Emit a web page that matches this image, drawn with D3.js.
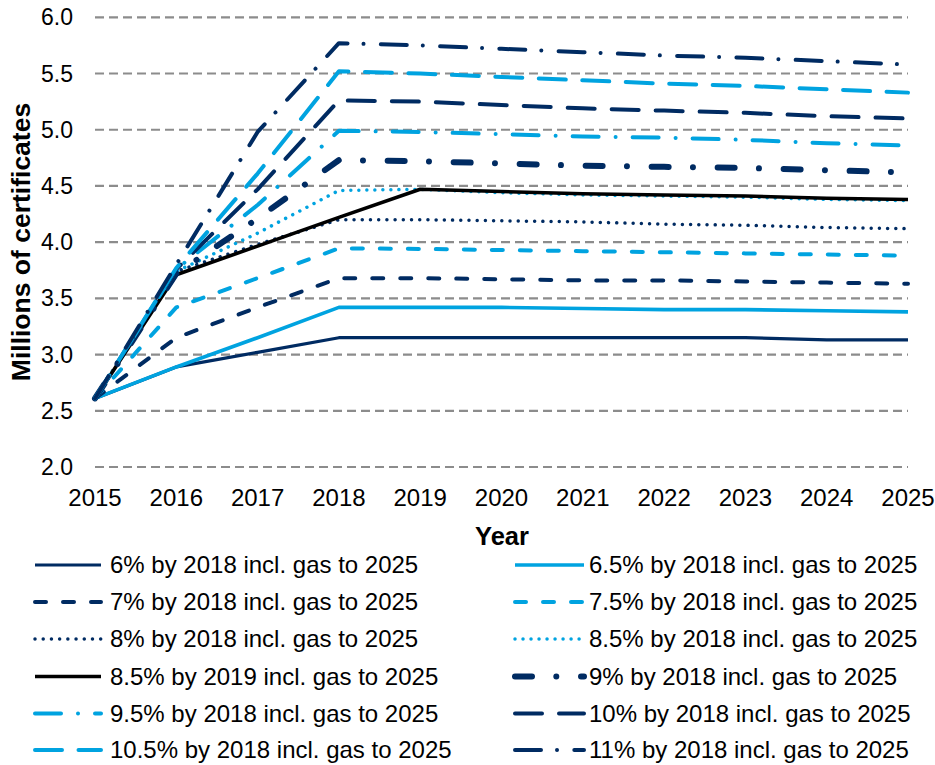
<!DOCTYPE html>
<html>
<head>
<meta charset="utf-8">
<script src="https://cdn.jsdelivr.net/npm/d3@7"></script>
<style>
  html, body { margin: 0; padding: 0; background: #fff; }
  svg { display: block; }
  text { font-family: "Liberation Sans", Arial, sans-serif; fill: #000; }
</style>
</head>
<body>
<svg id="chart" width="935" height="765"></svg>
<script>
// ---- Data ----
const years = [2015, 2016, 2017, 2018, 2019, 2020, 2021, 2022, 2023, 2024, 2025];
const yTicks = [2.0, 2.5, 3.0, 3.5, 4.0, 4.5, 5.0, 5.5, 6.0];
const seriesNames = [
  "6% by 2018 incl. gas to 2025",
  "6.5% by 2018 incl. gas to 2025",
  "7% by 2018 incl. gas to 2025",
  "7.5% by 2018 incl. gas to 2025",
  "8% by 2018 incl. gas to 2025",
  "8.5% by 2018 incl. gas to 2025",
  "8.5% by 2019 incl. gas to 2025",
  "9% by 2018 incl. gas to 2025",
  "9.5% by 2018 incl. gas to 2025",
  "10% by 2018 incl. gas to 2025",
  "10.5% by 2018 incl. gas to 2025",
  "11% by 2018 incl. gas to 2025"
];
const s6     = [2.61, 2.89, 3.02, 3.15, 3.15, 3.15, 3.15, 3.15, 3.15, 3.13, 3.13];
const s6_5   = [2.61, 2.89, 3.15, 3.42, 3.42, 3.42, 3.41, 3.40, 3.40, 3.39, 3.38];
const s7     = [2.61, 3.15, 3.42, 3.68, 3.68, 3.67, 3.66, 3.66, 3.65, 3.64, 3.63];
const s7_5   = [2.61, 3.42, 3.68, 3.945, 3.94, 3.93, 3.92, 3.91, 3.90, 3.89, 3.88];
const s8     = [2.61, 3.74, 3.98, 4.20, 4.20, 4.19, 4.18, 4.16, 4.15, 4.13, 4.12];
const s8_5a  = [2.61, 3.74, 4.08, 4.46, 4.47, 4.44, 4.42, 4.41, 4.40, 4.38, 4.37];
const s8_5b  = [2.61, 3.71, 3.965, 4.22, 4.47, 4.45, 4.43, 4.42, 4.41, 4.39, 4.38];
const s9     = [2.61, 3.72, 4.21, 4.73, 4.72, 4.70, 4.68, 4.67, 4.66, 4.64, 4.62];
const s9_5   = [2.61, 3.76, 4.33, 4.99, 4.98, 4.96, 4.94, 4.93, 4.91, 4.88, 4.86];
const s10    = [2.61, 3.76, 4.47, 5.26, 5.25, 5.22, 5.19, 5.17, 5.15, 5.12, 5.10];
const s10_5  = [2.61, 3.77, 4.61, 5.52, 5.50, 5.47, 5.44, 5.41, 5.39, 5.36, 5.33];
const s11    = [2.61, 3.80, 4.98, 5.77, 5.75, 5.72, 5.69, 5.66, 5.64, 5.61, 5.58];
const seriesValues = [s6, s6_5, s7, s7_5, s8, s8_5a, s8_5b, s9, s9_5, s10, s10_5, s11];

// ---- Styles ----
const NAVY = "#002B62", LIGHT = "#00A3E0", BLACK = "#000000";
const styles = [
  { c: NAVY,  w: 3.2, d: null },
  { c: LIGHT, w: 3.6, d: null },
  { c: NAVY,  w: 4,   d: "11,17" },
  { c: LIGHT, w: 4,   d: "11,17" },
  { c: NAVY,  w: 3.5, d: "0.01,8.2" },
  { c: LIGHT, w: 3.5, d: "0.01,8" },
  { c: BLACK, w: 3.6, d: null },
  { c: NAVY,  w: 6,   d: "17,24.3,0.01,24.7" },
  { c: LIGHT, w: 4,   d: "26,17,0.01,17" },
  { c: NAVY,  w: 4,   d: "27,17" },
  { c: LIGHT, w: 4,   d: "27,16.5" },
  { c: NAVY,  w: 4,   d: "26,16,0.01,17.3" }
];

const svg = d3.select("#chart");
const x = d3.scaleLinear().domain([2015, 2025]).range([95, 908]);
const y = d3.scaleLinear().domain([2.0, 6.0]).range([467, 17.3]);

// gridlines
svg.append("g").selectAll("line").data(yTicks).join("line")
  .attr("x1", x(2015)).attr("x2", x(2025))
  .attr("y1", d => y(d)).attr("y2", d => y(d))
  .attr("stroke", "#8c8c8c").attr("stroke-width", 2.2)
  .attr("stroke-dasharray", "9,5");

// y tick labels
svg.append("g").selectAll("text").data(yTicks).join("text")
  .attr("x", 73).attr("y", d => y(d)).attr("dy", "0.35em")
  .attr("text-anchor", "end").style("font-size", "23px")
  .text(d => d.toFixed(1));

// x tick labels
svg.append("g").selectAll("text").data(years).join("text")
  .attr("x", d => x(d)).attr("y", 505.5)
  .attr("text-anchor", "middle").style("font-size", "24px")
  .text(d => d);

// axis titles
svg.append("text").attr("x", 502).attr("y", 545)
  .attr("text-anchor", "middle").style("font-size", "25.5px").style("font-weight", "bold")
  .text("Year");
svg.append("text").attr("transform", "translate(30,242) rotate(-90)")
  .attr("text-anchor", "middle").style("font-size", "26.5px").style("font-weight", "bold")
  .text("Millions of certificates");

// lines
const line = d3.line().x((d, i) => x(years[i])).y(d => y(d));
const lg = svg.append("g");
seriesValues.forEach((vals, i) => {
  const st = styles[i];
  lg.append("path").datum(vals)
    .attr("d", line)
    .attr("fill", "none")
    .attr("stroke", st.c).attr("stroke-width", st.w)
    .attr("stroke-linecap", st.d ? "round" : "butt")
    .attr("stroke-linejoin", "round")
    .attr("stroke-dasharray", st.d);
});

// legend
const legendRows = [565, 602, 639, 676.5, 713.5, 750];
const legendCols = [{ x1: 35, x2: 101, tx: 110 }, { x1: 515, x2: 584, tx: 589 }];
const leg = svg.append("g");
seriesNames.forEach((name, i) => {
  const col = legendCols[i % 2], ry = legendRows[Math.floor(i / 2)];
  const st = styles[i];
  leg.append("line")
    .attr("x1", col.x1).attr("x2", col.x2).attr("y1", ry).attr("y2", ry)
    .attr("stroke", st.c).attr("stroke-width", st.w)
    .attr("stroke-linecap", st.d ? "round" : "butt")
    .attr("stroke-dasharray", st.d);
  leg.append("text").attr("x", col.tx).attr("y", ry).attr("dy", "0.35em")
    .style("font-size", "24px").text(name);
});
</script>
</body>
</html>
